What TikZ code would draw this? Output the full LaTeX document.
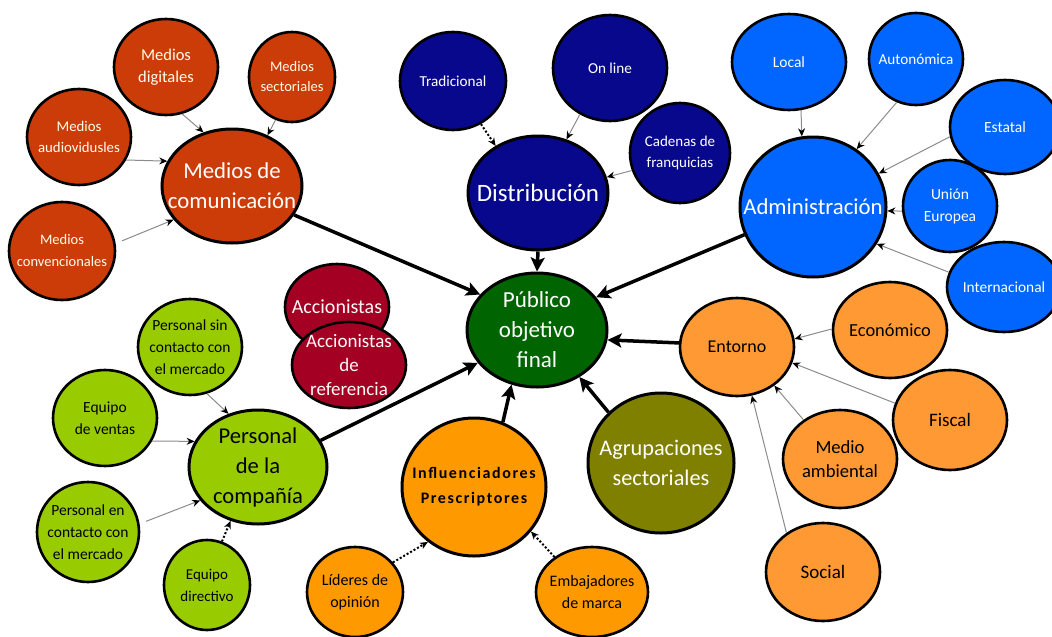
\documentclass[tikz,border=0pt]{standalone}
\usepackage{fontspec}
\setmainfont{Carlito}
\newfontfamily\spacedfont[LetterSpace=10]{Carlito}
\usetikzlibrary{shapes.geometric,arrows.meta}

\definecolor{medred}{RGB}{204,60,8}
\definecolor{navy}{RGB}{8,8,140}
\definecolor{admblue}{RGB}{0,102,255}
\definecolor{pubgreen}{RGB}{0,100,0}
\definecolor{crimson}{RGB}{163,0,35}
\definecolor{lime}{RGB}{153,204,0}
\definecolor{infor}{RGB}{255,153,0}
\definecolor{entor}{RGB}{255,153,51}
\definecolor{olivegr}{RGB}{128,128,0}

\tikzset{
  % the ellipse size is fixed by minimum width/height; the negative inner sep
  % keeps wide labels from enlarging it
  bub/.style={ellipse, draw=black, line width=2.6pt, inner sep=-25pt, align=center},
  hub/.style={bub, line width=3pt},
  sz/.style 2 args={minimum width=#1pt, minimum height=#2pt},
  fs/.style 2 args={font=\fontsize{#1}{#2}\selectfont},
  mainarrow/.style={line width=3.5pt, -{Stealth[length=14pt,width=14pt,inset=3pt]}},
  subarrow/.style={draw=black!45, line width=1pt, -{Stealth[length=8pt,width=7pt,color=black]}},
  dotarrow/.style={draw=black, line width=2pt, dotted, -{Stealth[length=8pt,width=7pt]}},
}

\begin{document}
\begin{tikzpicture}[x=1pt,y=-1pt]
\useasboundingbox[fill=white] (0,0) rectangle (1052,637);

% ---- Medios de comunicación ----
\node[hub, fill=medred, text=white, sz={140}{114}, fs={22.8}{30}] (med) at (232,186) {Medios de\\comunicación};
\node[bub, fill=medred, text=white!92!yellow, sz={104}{96}, fs={16.5}{22}] (dig) at (166,67) {Medios\\digitales};
\node[bub, fill=medred, text=white!92!yellow, sz={86}{90}, fs={14.5}{20}] (sec) at (292,77) {Medios\\sectoriales};
\node[bub, fill=medred, text=white!92!yellow, sz={104}{96}, fs={14.8}{21}] (aud) at (79,137) {Medios\\audiovidusles};
\node[bub, fill=medred, text=white!92!yellow, sz={106}{98}, fs={14.5}{22}] (conv) at (62,251) {Medios\\convencionales};

% ---- Distribución ----
\node[hub, fill=navy, text=white, sz={140}{114}, fs={25}{30}] (dist) at (538,193) {Distribución};
\node[bub, fill=navy, text=white, sz={106}{98}, fs={15.2}{20}] (trad) at (453,81) {Tradicional};
\node[bub, fill=navy, text=white, sz={114}{106}, fs={15.2}{20}] (onl) at (610,68) {On line};
\node[bub, fill=navy, text=white, sz={100}{100}, fs={15}{21}] (cad) at (680,153) {Cadenas de\\franquicias};

% ---- Administración ----
\node[hub, fill=admblue, text=white, sz={146}{140}, fs={22.8}{30}] (adm) at (813,207) {Administración};
\node[bub, fill=admblue, text=white, sz={114}{96}, fs={15.5}{20}] (loc) at (789,62) {Local};
\node[bub, fill=admblue, text=white, sz={94}{92}, fs={15.2}{20}] (aut) at (916,59) {Autonómica};
\node[bub, fill=admblue, text=white, sz={110}{94}, fs={15.5}{20}] (est) at (1005,127) {Estatal};
\node[bub, fill=admblue, text=white, sz={94}{92}, fs={15.5}{22}] (ue) at (950,206) {Unión\\Europea};
\node[bub, fill=admblue, text=white, sz={114}{90}, fs={15.4}{20}] (intl) at (1004,287) {Internacional};

% ---- Accionistas ----
\node[bub, fill=crimson, text=white!90!pink, sz={104}{86}, fs={20}{25}] (acc) at (337,307) {Accionistas};
\node[bub, fill=crimson, text=white!90!pink, sz={114}{86}, fs={19}{24}] (accref) at (349,365) {Accionistas\\de\\referencia};

% ---- Público objetivo final ----
\node[hub, fill=pubgreen, text=white, sz={140}{114}, fs={23}{30}] (pub) at (537,330) {Público\\objetivo\\final};

% ---- Personal de la compañía ----
\node[hub, fill=lime, text=black, sz={138}{114}, fs={22.6}{30}] (pers) at (258,467) {Personal\\de la\\compañía};
\node[bub, fill=lime, text=black, sz={104}{96}, fs={15.5}{22}] (sin) at (190,347) {Personal sin\\contacto con\\el mercado};
\node[bub, fill=lime, text=black, sz={104}{96}, fs={15.5}{22}] (ven) at (105,418) {Equipo\\de ventas};
\node[bub, fill=lime, text=black, sz={102}{100}, fs={15.5}{22}] (enc) at (88,532) {Personal en\\contacto con\\el mercado};
\node[bub, fill=lime, text=black, sz={86}{90}, fs={15}{22}] (dir) at (207,585) {Equipo\\directivo};

% ---- Influenciadores Prescriptores ----
\node[hub, fill=infor, text=black, sz={144}{138}, font=\spacedfont\bfseries\fontsize{16}{25}\selectfont] (infl) at (474,487) {Influenciadores\\Prescriptores};
\node[bub, fill=infor, text=black, sz={96}{90}, fs={16}{22}] (lid) at (355,592) {Líderes de\\opinión};
\node[bub, fill=infor, text=black, sz={112}{90}, fs={16}{22}] (emb) at (592,592) {Embajadores\\de marca};

% ---- Agrupaciones sectoriales ----
\node[hub, fill=olivegr, text=white, sz={146}{140}, fs={22.3}{30}] (agr) at (661,463) {Agrupaciones\\sectoriales};

% ---- Entorno ----
\node[bub, fill=entor, text=black, sz={114}{98}, fs={18}{22}] (ent) at (737,347) {Entorno};
\node[bub, fill=entor, text=black, sz={114}{96}, fs={18.4}{22}] (eco) at (890,330) {Económico};
\node[bub, fill=entor, text=black, sz={114}{100}, fs={19}{22}] (fis) at (950,420) {Fiscal};
\node[bub, fill=entor, text=black, sz={114}{98}, fs={18.6}{24}] (amb) at (840,459) {Medio\\ambiental};
\node[bub, fill=entor, text=black, sz={114}{98}, fs={19}{22}] (soc) at (823,572) {Social};

% ---- connectors into the hubs ----
\draw[subarrow] (dig.-71) -- (med.118);
\draw[subarrow] (sec.-111) -- (med.55);
\draw[subarrow] (aud.-26) -- (med.159);
\draw[subarrow, shorten <=7pt] (conv.8) -- (med.-150);

\draw[dotarrow] (trad.-57) -- (dist.132);
\draw[subarrow] (onl.-123) -- (dist.62);
\draw[subarrow] (cad.-160) -- (dist.13);

\draw[subarrow] (loc.-76) -- (adm.99);
\draw[subarrow] (aut.-114) -- (adm.53);
\draw[subarrow] (est.-170) -- (adm.27);
\draw[subarrow] (ue.-174) -- (adm.-3);
\draw[subarrow] (intl.165) -- (adm.-30);

\draw[subarrow] (sin.-70) -- (pers.119);
\draw[subarrow] (ven.-26) -- (pers.158);
\draw[subarrow, shorten <=7pt] (enc.9) -- (pers.-150);
\draw[dotarrow] (dir.71) -- (pers.-117);

\draw[dotarrow] (lid.38) -- (infl.-130);
\draw[dotarrow] (emb.137) -- (infl.-38);

\draw[subarrow] (eco.179) -- (ent.8);
\draw[subarrow] (fis.163) -- (ent.-16);
\draw[subarrow] (amb.133) -- (ent.-46);
\draw[subarrow] (soc.133) -- (ent.-73);

% ---- main connectors into Público objetivo final ----
\draw[mainarrow] (med.-25) -- (pub.148);
\draw[mainarrow] (dist.-90) -- (pub.90);
\draw[mainarrow] (adm.-158) -- (pub.29);
\draw[mainarrow] (ent.176) -- (pub.-8);
\draw[mainarrow] (agr.136) -- (pub.-48);
\draw[mainarrow] (infl.66) -- (pub.-115);
\draw[mainarrow] (pers.23) -- (pub.-151);
\end{tikzpicture}
\end{document}
